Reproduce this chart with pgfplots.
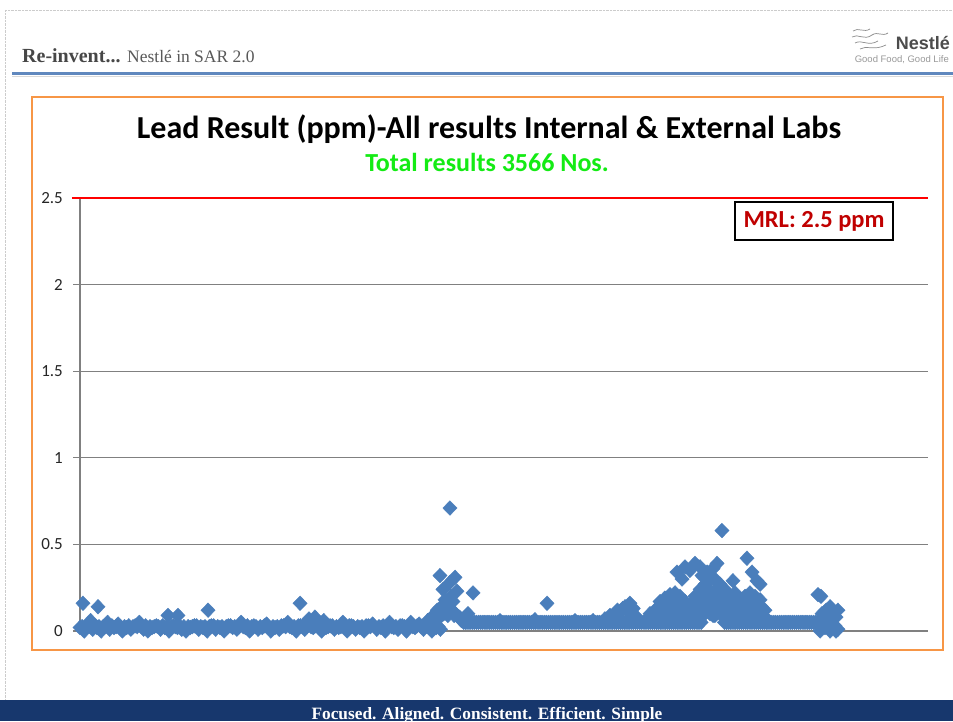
\documentclass[border=0pt]{standalone}
\usepackage{pgfplots}
\pgfplotsset{compat=1.18}
\usepackage{pgfplotstable}
\usepackage{fontspec}
\setmainfont{Carlito}
\newfontfamily\serifhead{Liberation Serif}
\newfontfamily\logofont{Liberation Sans}
\definecolor{ptblue}{RGB}{74,126,187}
\definecolor{frameorange}{RGB}{247,150,70}
\definecolor{gridgray}{RGB}{128,128,128}
\definecolor{mrlred}{RGB}{192,0,0}
\definecolor{titlegreen}{RGB}{20,235,20}
\definecolor{footblue}{RGB}{23,55,109}
\definecolor{headline}{RGB}{96,136,190}
\pgfplotstableread[row sep=\\]{
x y\\
0 0.02\\ 14 0.16\\ 20 0.00\\ 40 0.03\\ 50 0.06\\ 60 0.01\\ 80 0.02\\ 85 0.14\\ 100 0.00\\ 120 0.03\\
130 0.05\\ 140 0.01\\ 160 0.02\\ 180 0.04\\ 200 0.00\\ 220 0.02\\ 240 0.01\\ 260 0.03\\ 280 0.05\\ 300 0.01\\
320 0.00\\ 340 0.02\\ 360 0.03\\ 380 0.01\\ 400 0.02\\ 415 0.09\\ 420 0.00\\ 440 0.03\\ 460 0.02\\ 462 0.09\\
480 0.01\\ 500 0.00\\ 520 0.02\\ 540 0.03\\ 560 0.01\\ 580 0.02\\ 600 0.00\\ 604 0.12\\ 620 0.03\\ 640 0.01\\
660 0.02\\ 680 0.00\\ 700 0.03\\ 720 0.02\\ 740 0.01\\ 760 0.05\\ 780 0.02\\ 800 0.00\\ 820 0.03\\ 840 0.01\\
860 0.02\\ 880 0.04\\ 900 0.00\\ 920 0.02\\ 940 0.01\\ 960 0.03\\ 980 0.05\\ 1000 0.02\\ 1020 0.00\\ 1038 0.16\\
1040 0.03\\ 1060 0.01\\ 1080 0.07\\ 1100 0.02\\ 1108 0.08\\ 1120 0.04\\ 1140 0.00\\ 1150 0.06\\ 1160 0.02\\ 1180 0.03\\
1200 0.01\\ 1220 0.02\\ 1240 0.05\\ 1260 0.00\\ 1280 0.03\\ 1300 0.01\\ 1320 0.02\\ 1340 0.00\\ 1360 0.03\\ 1380 0.04\\
1400 0.01\\ 1420 0.02\\ 1440 0.00\\ 1460 0.05\\ 1480 0.02\\ 1500 0.01\\ 1520 0.03\\ 1540 0.00\\ 1560 0.05\\ 1580 0.02\\
1600 0.04\\ 1620 0.01\\ 1640 0.03\\ 1660 0.00\\ 1680 0.02\\ 1700 0.01\\
10 0.025\\ 30 0.025\\ 50 0.025\\ 70 0.03\\ 90 0.025\\ 110 0.025\\ 130 0.025\\ 150 0.03\\ 170 0.025\\ 190 0.025\\
210 0.025\\ 230 0.03\\ 250 0.025\\ 270 0.025\\ 290 0.025\\ 310 0.03\\ 330 0.025\\ 350 0.025\\ 370 0.025\\ 390 0.03\\
410 0.025\\ 430 0.025\\ 450 0.025\\ 470 0.03\\ 490 0.025\\ 510 0.025\\ 530 0.025\\ 550 0.03\\ 570 0.025\\ 590 0.025\\
610 0.025\\ 630 0.03\\ 650 0.025\\ 670 0.025\\ 690 0.025\\ 710 0.03\\ 730 0.025\\ 750 0.025\\ 770 0.025\\ 790 0.03\\
810 0.025\\ 830 0.025\\ 850 0.025\\ 870 0.03\\ 890 0.025\\ 910 0.025\\ 930 0.025\\ 950 0.03\\ 970 0.025\\ 990 0.025\\
1010 0.025\\ 1030 0.03\\ 1050 0.025\\ 1070 0.025\\ 1090 0.025\\ 1110 0.03\\ 1130 0.025\\ 1150 0.025\\ 1170 0.025\\ 1190 0.03\\
1210 0.025\\ 1230 0.025\\ 1250 0.025\\ 1270 0.03\\ 1290 0.025\\ 1310 0.025\\ 1330 0.025\\ 1350 0.03\\ 1370 0.025\\ 1390 0.025\\
1410 0.025\\ 1430 0.03\\ 1450 0.025\\ 1470 0.025\\ 1490 0.025\\ 1510 0.03\\ 1530 0.025\\ 1550 0.025\\ 1570 0.025\\ 1590 0.03\\
1610 0.025\\ 1630 0.025\\ 1650 0.025\\ 1670 0.03\\ 1690 0.025\\
1640 0.06\\ 1660 0.08\\ 1675 0.10\\ 1685 0.12\\ 1690 0.07\\ 1698 0.32\\ 1705 0.14\\ 1712 0.24\\ 1715 0.10\\ 1722 0.18\\
1730 0.13\\ 1735 0.09\\ 1745 0.71\\ 1745 0.28\\ 1750 0.20\\ 1755 0.12\\ 1759 0.17\\ 1765 0.09\\ 1769 0.31\\ 1770 0.10\\
1778 0.23\\ 1790 0.08\\ 1800 0.06\\ 1830 0.10\\ 1854 0.22\\
1810 0.05\\ 1820 0.05\\ 1830 0.05\\ 1840 0.05\\ 1850 0.05\\ 1860 0.05\\ 1870 0.05\\ 1880 0.05\\ 1890 0.05\\ 1900 0.05\\
1910 0.05\\ 1920 0.05\\ 1930 0.05\\ 1940 0.05\\ 1950 0.05\\ 1960 0.05\\ 1970 0.05\\ 1980 0.05\\ 1981 0.06\\ 1990 0.05\\
2000 0.05\\ 2010 0.05\\ 2020 0.05\\ 2030 0.05\\ 2040 0.05\\ 2050 0.05\\ 2060 0.05\\ 2070 0.05\\ 2080 0.05\\ 2090 0.05\\
2100 0.05\\ 2110 0.05\\ 2120 0.05\\ 2130 0.05\\ 2140 0.05\\ 2146 0.065\\ 2150 0.05\\ 2160 0.05\\ 2170 0.05\\ 2180 0.05\\
2190 0.05\\ 2200 0.05\\ 2203 0.16\\ 2210 0.05\\ 2220 0.05\\ 2230 0.05\\ 2240 0.05\\ 2250 0.05\\ 2260 0.05\\ 2270 0.05\\
2280 0.05\\ 2290 0.05\\ 2300 0.05\\ 2310 0.05\\ 2320 0.05\\ 2330 0.05\\ 2335 0.06\\ 2340 0.05\\ 2350 0.05\\ 2360 0.05\\
2370 0.05\\ 2380 0.05\\ 2390 0.05\\ 2400 0.05\\ 2410 0.05\\ 2420 0.06\\ 2420 0.05\\ 2430 0.05\\ 2440 0.05\\ 2450 0.05\\
2460 0.05\\ 2470 0.05\\ 2476 0.07\\ 2480 0.05\\ 2490 0.05\\ 2500 0.09\\ 2500 0.05\\ 2510 0.05\\ 2515 0.08\\ 2520 0.05\\
2524 0.10\\ 2530 0.05\\ 2535 0.12\\ 2540 0.05\\ 2547 0.11\\ 2550 0.05\\ 2560 0.13\\ 2560 0.05\\ 2570 0.05\\ 2571 0.14\\
2580 0.12\\ 2580 0.05\\ 2590 0.05\\ 2594 0.16\\ 2600 0.11\\ 2600 0.05\\ 2610 0.05\\ 2610 0.13\\ 2618 0.09\\ 2620 0.05\\
2630 0.05\\ 2630 0.07\\ 2640 0.05\\ 2650 0.05\\ 2660 0.05\\ 2670 0.05\\ 2680 0.05\\ 2689 0.08\\ 2689 0.10\\ 2690 0.05\\
2700 0.05\\ 2700 0.09\\ 2710 0.05\\ 2712 0.08\\ 2712 0.12\\ 2720 0.05\\ 2724 0.13\\ 2730 0.05\\ 2736 0.10\\ 2736 0.17\\
2740 0.05\\ 2747 0.10\\ 2747 0.15\\ 2750 0.05\\ 2759 0.09\\ 2759 0.14\\ 2759 0.19\\ 2760 0.05\\ 2770 0.05\\ 2771 0.17\\
2780 0.05\\ 2783 0.10\\ 2783 0.15\\ 2783 0.21\\ 2790 0.05\\ 2795 0.12\\ 2795 0.18\\ 2800 0.05\\ 2807 0.09\\ 2807 0.16\\
2807 0.22\\ 2810 0.05\\ 2816 0.34\\ 2819 0.17\\ 2820 0.05\\ 2830 0.05\\ 2830 0.10\\ 2830 0.14\\ 2830 0.20\\ 2840 0.30\\
2840 0.05\\ 2842 0.11\\ 2842 0.15\\ 2850 0.05\\ 2854 0.09\\ 2854 0.13\\ 2854 0.17\\ 2854 0.37\\ 2860 0.05\\ 2866 0.12\\
2870 0.05\\ 2877 0.10\\ 2877 0.15\\ 2877 0.35\\ 2880 0.05\\ 2889 0.14\\ 2890 0.05\\ 2900 0.05\\ 2901 0.08\\ 2901 0.14\\
2901 0.20\\ 2901 0.39\\ 2910 0.05\\ 2913 0.12\\ 2913 0.19\\ 2920 0.05\\ 2925 0.10\\ 2925 0.17\\ 2925 0.24\\ 2925 0.37\\
2930 0.05\\ 2934 0.32\\ 2937 0.20\\ 2948 0.10\\ 2948 0.15\\ 2948 0.21\\ 2948 0.27\\ 2958 0.34\\ 2960 0.28\\ 2960 0.12\\
2960 0.19\\ 2972 0.10\\ 2972 0.16\\ 2972 0.23\\ 2972 0.30\\ 2984 0.20\\ 2986 0.09\\ 2986 0.36\\ 2995 0.09\\ 2995 0.15\\
2995 0.22\\ 2995 0.30\\ 3005 0.39\\ 3007 0.12\\ 3007 0.25\\ 3019 0.10\\ 3019 0.17\\ 3019 0.27\\ 3028 0.58\\ 3031 0.20\\
3040 0.05\\ 3042 0.08\\ 3042 0.15\\ 3042 0.24\\ 3050 0.05\\ 3054 0.11\\ 3054 0.17\\ 3060 0.05\\ 3066 0.09\\ 3066 0.14\\
3066 0.20\\ 3070 0.05\\ 3078 0.16\\ 3080 0.29\\ 3080 0.05\\ 3090 0.05\\ 3090 0.10\\ 3090 0.16\\ 3090 0.22\\ 3100 0.05\\
3101 0.11\\ 3101 0.18\\ 3110 0.05\\ 3113 0.08\\ 3113 0.13\\ 3113 0.18\\ 3120 0.05\\ 3125 0.14\\ 3130 0.05\\ 3137 0.10\\
3137 0.15\\ 3137 0.20\\ 3140 0.05\\ 3146 0.42\\ 3149 0.11\\ 3149 0.17\\ 3150 0.05\\ 3160 0.05\\ 3160 0.09\\ 3160 0.15\\
3160 0.22\\ 3170 0.34\\ 3170 0.05\\ 3172 0.18\\ 3180 0.05\\ 3184 0.10\\ 3184 0.14\\ 3184 0.20\\ 3190 0.05\\ 3193 0.29\\
3196 0.10\\ 3196 0.16\\ 3200 0.05\\ 3208 0.09\\ 3208 0.13\\ 3208 0.18\\ 3208 0.27\\ 3210 0.05\\ 3220 0.05\\ 3220 0.13\\
3230 0.05\\ 3231 0.08\\ 3231 0.12\\ 3240 0.05\\ 3250 0.05\\ 3260 0.05\\ 3270 0.05\\ 3280 0.05\\ 3290 0.05\\ 3300 0.05\\
3310 0.05\\ 3320 0.05\\ 3330 0.05\\ 3340 0.05\\ 3350 0.05\\ 3360 0.05\\ 3370 0.05\\ 3380 0.05\\ 3390 0.05\\ 3400 0.05\\
3410 0.05\\ 3420 0.05\\ 3430 0.05\\ 3440 0.05\\ 3450 0.05\\ 3460 0.05\\ 3470 0.05\\ 3480 0.05\\
3481 0.21\\ 3491 0.00\\ 3491 0.06\\ 3495 0.20\\ 3500 0.10\\ 3505 0.03\\ 3514 0.02\\ 3514 0.08\\ 3520 0.12\\ 3528 0.05\\
3538 0.00\\ 3538 0.07\\ 3538 0.14\\ 3550 0.04\\ 3555 0.11\\ 3561 0.03\\ 3566 0.00\\ 3566 0.08\\ 3575 0.01\\ 3575 0.12\\
}\leaddata
\begin{document}
\begin{tikzpicture}[x=1pt,y=1pt]
\path[use as bounding box] (0,0) rectangle (953,721);
\fill[white] (0,0) rectangle (953,721);
% slide border
\draw[black!20, densely dotted] (5,711) -- (953,711);
\draw[black!20, densely dotted] (5,711) -- (5,21);
% header
\node[anchor=base west, inner sep=0pt, text=black!72] at (22,658) {\serifhead\fontsize{20}{22}\selectfont\textbf{Re-invent...} {\fontsize{17.5}{20}\selectfont\color{black!65}Nestl\'e in SAR 2.0}};
\fill[headline] (12,646) rectangle (953,649);
\draw[black!15] (12,645) -- (953,645);
% logo
\begin{scope}[black!45, line width=0.7pt]
\draw (853,690) .. controls (858,694) and (864,688) .. (870,692);
\draw (852,684) .. controls (858,688) and (864,680) .. (872,686);
\draw (855,678) .. controls (862,682) and (868,674) .. (878,680);
\draw (860,672) .. controls (866,676) and (874,670) .. (886,676);
\draw (872,686) .. controls (878,690) and (882,684) .. (888,688);
\end{scope}
\node[anchor=base east, inner sep=0pt, text=black!70] at (950,671) {\logofont\bfseries\fontsize{18}{20}\selectfont Nestl\'e};
\node[anchor=base east, inner sep=0pt, text=black!40] at (949,658) {\logofont\fontsize{9.5}{11}\selectfont Good Food, Good Life};
% frame
\draw[frameorange, line width=1.5pt] (32,71) rectangle (943,624);
% titles
\node[anchor=base, inner sep=0pt] at (489,582) {\fontsize{32}{36}\selectfont\bfseries Lead Result (ppm)-All results Internal \& External Labs};
\node[anchor=base, inner sep=0pt, text=titlegreen] at (487,549) {\fontsize{26}{30}\selectfont\bfseries Total results 3566 Nos.};
\begin{axis}[
  at={(80pt,90pt)}, anchor=south west,
  scale only axis, width=848pt, height=433pt,
  xmin=0, xmax=4000, ymin=0, ymax=2.5,
  axis lines*=left,
  axis line style={gridgray, line width=1.2pt},
  xtick=\empty,
  ytick={0,0.5,1,1.5,2,2.5},
  ymajorgrids,
  grid style={gridgray, line width=1.2pt},
  tick align=outside,
  major tick length=7pt,
  tick style={gridgray, line width=1.2pt},
  /pgf/number format/assume math mode=true,
  yticklabel style={font=\fontsize{17}{20}\selectfont, text=black!85, inner xsep=0pt, xshift=-10pt},
  clip=false,
]
\addplot[only marks, mark=diamond*, mark size=7.3pt, color=ptblue,
  mark options={xscale=1.3, draw=ptblue, fill=ptblue}] table[x=x, y=y] {\leaddata};
\addplot[red, line width=1.8pt, mark=none] coordinates {(-38,2.5) (4000,2.5)};
\end{axis}
% MRL box
\node[draw=black, line width=1.5pt, fill=white, minimum width=158pt, minimum height=38pt, inner sep=0pt, text=mrlred] at (814,500) {\fontsize{24.5}{28}\selectfont\bfseries MRL: 2.5 ppm};
% footer
\fill[footblue] (0,0) rectangle (953,21);
\node[text=white, anchor=base, inner sep=0pt] at (487,2) {\serifhead\bfseries\fontsize{17.3}{20}\selectfont Focused. Aligned. Consistent. Efficient. Simple};
\end{tikzpicture}
\end{document}
